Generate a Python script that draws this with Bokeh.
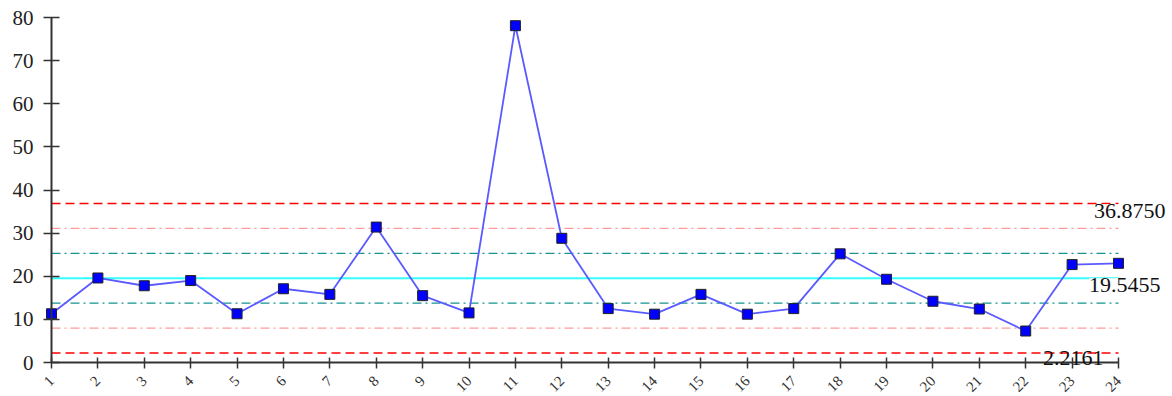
import math
from bokeh.plotting import figure
from bokeh.models import FixedTicker, Label
from bokeh.embed import file_html
from bokeh.resources import INLINE

# ---- data ----
samples = list(range(1, 25))
values = [11.3, 19.6, 17.8, 19.0, 11.3, 17.1, 15.8, 31.4, 15.5, 11.5, 78.1, 28.8,
          12.5, 11.2, 15.8, 11.2, 12.5, 25.2, 19.3, 14.2, 12.4, 7.3, 22.7, 23.0]
ucl = 36.8750
cl = 19.5455
lcl = 2.2161
y_ticks = [0, 10, 20, 30, 40, 50, 60, 70, 80]
limit_texts = ["36.8750", "19.5455", "2.2161"]

sigma = (ucl - cl) / 3.0

# frame spans the whole canvas; axes are drawn inside at fixed locations
W, H = 1172, 396
px_x = 1067.0 / 23.0      # pixels per sample
px_y = 345.0 / 80.0       # pixels per unit
x0 = 1 - 51.0 / px_x
y1 = 80 + 17.0 / px_y
p = figure(width=W, height=H, x_range=(x0, x0 + W / px_x), y_range=(y1 - H / px_y, y1),
           output_backend="svg", toolbar_location=None, title=None, min_border=0)
p.outline_line_color = None
p.xgrid.visible = False
p.ygrid.visible = False
p.background_fill_color = "white"

# control lines
lines = [
    (ucl, "#ff0000", "9 5", 1.4),
    (cl + 2 * sigma, "#ff9a9a", "9 4 2 4", 1.3),
    (cl + sigma, "#159490", "9 4 2 4", 1.3),
    (cl, "#33ffff", "solid", 2.0),
    (cl - sigma, "#159490", "9 4 2 4", 1.3),
    (cl - 2 * sigma, "#ff9a9a", "9 4 2 4", 1.3),
    (lcl, "#ff0000", "9 5", 1.4),
]
for v, c, d, w in lines:
    p.line([samples[0], samples[-1]], [v, v], line_color=c, line_dash=d, line_width=w)

# data series
p.line(samples, values, line_color="#5a5aff", line_width=1.8)
p.scatter(samples, values, marker="square", size=10, fill_color="#0000ff",
          line_color="#222222", line_width=1)

# labels
FONT = "Liberation Serif"
p.add_layout(Label(x=samples[-1], y=ucl, x_offset=47, y_offset=-1, text=limit_texts[0],
                   text_align="right", text_baseline="top", text_font=FONT,
                   text_font_size="22px", text_color="#111111",
                   background_fill_color="white"))
p.add_layout(Label(x=samples[-1], y=cl, x_offset=42, y_offset=0, text=limit_texts[1],
                   text_align="right", text_baseline="top", text_font=FONT,
                   text_font_size="22px", text_color="#111111",
                   background_fill_color="white"))
p.add_layout(Label(x=samples[-1], y=lcl, x_offset=-15, y_offset=2, text=limit_texts[2],
                   text_align="right", text_baseline="top", text_font=FONT,
                   text_font_size="22px", text_color="#111111"))

# axes
for ax in (p.xaxis[0], p.yaxis[0]):
    ax.axis_line_color = "#333333"
    ax.axis_line_width = 2
    ax.major_tick_line_color = "#333333"
    ax.major_tick_line_width = 1.5
    ax.minor_tick_line_color = None
    ax.major_label_text_font = "Times"

xa = p.xaxis[0]
xa.fixed_location = 0
xa.bounds = (samples[0], samples[-1])
xa.ticker = FixedTicker(ticks=samples)
xa.major_tick_in = 5
xa.major_tick_out = 6
xa.major_label_orientation = math.pi / 4
xa.major_label_text_font_size = "15px"
xa.major_label_text_color = "#333333"
xa.major_label_standoff = 10

ya = p.yaxis[0]
ya.fixed_location = samples[0]
ya.bounds = (y_ticks[0], y_ticks[-1])
ya.ticker = FixedTicker(ticks=y_ticks)
ya.major_tick_in = 8
ya.major_tick_out = 8
ya.major_label_text_font_size = "21px"
ya.major_label_text_color = "#222222"
ya.major_label_standoff = 10

open("out.html", "w").write(file_html(p, INLINE))
